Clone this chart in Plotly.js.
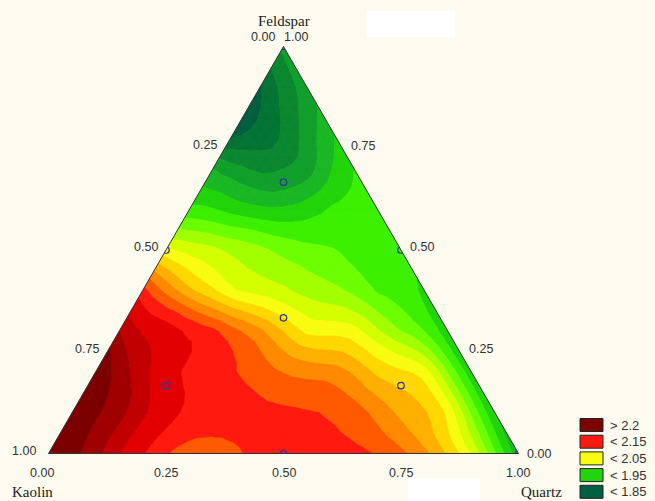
<!DOCTYPE html>
<html>
<head>
<meta charset="utf-8">
<script src="https://cdn.plot.ly/plotly-3.0.1.min.js"></script>
<style>
  html, body { margin: 0; padding: 0; background: #fdfaf0; }
  #chart { width: 655px; height: 501px; }
</style>
</head>
<body>
<div id="chart"></div>
<script>
// ---- Data -----------------------------------------------------------------
// Response surface values on a simplex lattice (step 0.1).
// rowN: Feldspar = N/10; entries run Quartz = 0 ... 1-Feldspar (Kaolin = rest).
const row0  = [2.22, 2.19, 2.152, 2.118, 2.128, 2.14, 2.14, 2.128, 2.095, 2.028, 1.915];
const row1  = [2.215, 2.19, 2.158, 2.14, 2.135, 2.131, 2.12, 2.085, 2.045, 1.93];
const row2  = [2.215, 2.175, 2.145, 2.13, 2.109, 2.10, 2.065, 2.04, 1.935];
const row3  = [2.185, 2.16, 2.135, 2.095, 2.045, 2.038, 1.99, 1.935];
const row4  = [2.138, 2.075, 2.03, 2.014, 1.997, 1.968, 1.945];
const row5  = [2.035, 2.015, 1.995, 1.975, 1.965, 1.958];
const row6  = [1.955, 1.94, 1.933, 1.952, 1.96];
const row7  = [1.91, 1.885, 1.90, 1.95];
const row8  = [1.835, 1.872, 1.925];
const row9  = [1.848, 1.90];
const row10 = [1.895];

// Contour levels and legend
const levels = [1.85, 1.87, 1.89, 1.91, 1.93, 1.95, 1.97, 1.99, 2.01, 2.03,
                2.05, 2.07, 2.09, 2.11, 2.13, 2.15, 2.17, 2.185, 2.2];
const legendLabels = ['> 2.2', '< 2.15', '< 2.05', '< 1.95', '< 1.85'];
const legendBands  = [19, 15, 10, 5, 0];

// Design points (Feldspar, Kaolin, Quartz)
const designFeldspar = [1, 0, 0, 0.5, 0.5, 0, 1/3, 2/3, 1/6, 1/6];
const designKaolin   = [0, 1, 0, 0.5, 0, 0.5, 1/3, 1/6, 2/3, 1/6];
const designQuartz   = [0, 0, 1, 0, 0.5, 0.5, 1/3, 1/6, 1/6, 2/3];

// Axis ticks and titles
const tickValues = [0, 0.25, 0.5, 0.75, 1];
const tickText   = ['0.00', '0.25', '0.50', '0.75', '1.00'];
const axisTitles = ['Feldspar', 'Kaolin', 'Quartz'];

// ---- Styles ---------------------------------------------------------------
const bandColors = [
  '#00603f', '#057434', '#0b8830', '#12a02c', '#1bb825', '#22d40a',
  '#3cf000', '#6cff00', '#a2ff00', '#d4ff00', '#f8fc10',
  '#ffd800', '#ffb000', '#ff8a00', '#ff5a00', '#ff1a10',
  '#e20000', '#c20000', '#a00000', '#7c0000'
];
const BG = '#fdfaf0';
const W = 655, H = 501;
const DOMX = [48.5 / W, 518.5 / W], DOMY = [0.09, 0.912];

// ---- Contour rendering: smooth (butterfly) refinement of the lattice, then
//      filled bands by linear interpolation inside each small triangle -------
function refine(Z, N) {
  const M = 2 * N;
  const get = (i, j) => (i >= 0 && j >= 0 && i + j <= N) ? Z[i][j] : undefined;
  const Y = [];
  for (let i = 0; i <= M; i++) Y.push(new Array(M - i + 1));
  for (let i = 0; i <= N; i++) for (let j = 0; j <= N - i; j++) Y[2 * i][2 * j] = Z[i][j];
  const dirs = [[[0, 1], [1, 0]], [[1, 0], [0, 1]], [[1, -1], [1, 0]]];
  for (let i = 0; i <= N; i++) for (let j = 0; j <= N - i; j++) {
    dirs.forEach(([d, p]) => {
      const i2 = i + d[0], j2 = j + d[1];
      const P2 = get(i2, j2);
      if (P2 === undefined) return;
      const P1 = Z[i][j];
      const q1 = get(i + p[0], j + p[1]), q2 = get(i2 - p[0], j2 - p[1]);
      const r = [get(i + p[0] - d[0], j + p[1] - d[1]), get(i + p[0] + d[0], j + p[1] + d[1]),
                 get(i2 - p[0] - d[0], j2 - p[1] - d[1]), get(i2 - p[0] + d[0], j2 - p[1] + d[1])];
      let v;
      if (q1 !== undefined && q2 !== undefined && r.every(x => x !== undefined)) {
        v = (P1 + P2) / 2 + (q1 + q2) / 8 - (r[0] + r[1] + r[2] + r[3]) / 16;
      } else if (q1 === undefined || q2 === undefined) {
        const p0 = get(i - d[0], j - d[1]), p3 = get(i2 + d[0], j2 + d[1]);
        v = (p0 !== undefined && p3 !== undefined) ? (-p0 + 9 * P1 + 9 * P2 - p3) / 16 : (P1 + P2) / 2;
      } else {
        v = 3 * (P1 + P2) / 8 + (q1 + q2) / 8;
      }
      Y[i + i2][j + j2] = v;
    });
  }
  return Y;
}
let grid = [row0, row1, row2, row3, row4, row5, row6, row7, row8, row9, row10];
let N = grid.length - 1;
for (let s = 0; s < 2; s++) { grid = refine(grid, N); N *= 2; }

function node(i, j) { return { a: i / N, c: j / N, b: (N - i - j) / N, z: grid[i][j] }; }
function lerp(P, Q, t) {
  return { a: P.a + (Q.a - P.a) * t, b: P.b + (Q.b - P.b) * t,
           c: P.c + (Q.c - P.c) * t, z: P.z + (Q.z - P.z) * t };
}
function clip(poly, lvl, above) {
  const out = [];
  for (let k = 0; k < poly.length; k++) {
    const P = poly[k], Q = poly[(k + 1) % poly.length];
    const pin = above ? P.z >= lvl : P.z <= lvl;
    const qin = above ? Q.z >= lvl : Q.z <= lvl;
    if (pin) out.push(P);
    if (pin !== qin) out.push(lerp(P, Q, (lvl - P.z) / (Q.z - P.z)));
  }
  return out;
}
const tris = [];
for (let i = 0; i < N; i++) for (let j = 0; j <= N - 1 - i; j++) {
  tris.push([node(i, j), node(i, j + 1), node(i + 1, j)]);
  if (j <= N - i - 2) tris.push([node(i, j + 1), node(i + 1, j + 1), node(i + 1, j)]);
}
const traces = [];
const nb = levels.length + 1;
for (let k = 0; k < nb; k++) {
  const lo = k === 0 ? null : levels[k - 1];
  const hi = k === nb - 1 ? null : levels[k];
  const A = [], B = [], C = [];
  tris.forEach(t => {
    let p = t;
    if (lo !== null) p = clip(p, lo, true);
    if (p.length >= 3 && hi !== null) p = clip(p, hi, false);
    if (p.length >= 3) {
      p.concat([p[0]]).forEach(v => { A.push(v.a); B.push(v.b); C.push(v.c); });
      A.push(null); B.push(null); C.push(null);
    }
  });
  if (A.length) {
    traces.push({
      type: 'scatterternary', mode: 'lines', a: A, b: B, c: C,
      fill: 'toself', fillcolor: bandColors[k],
      line: { color: bandColors[k], width: 0.8, simplify: false },
      hoverinfo: 'skip', showlegend: false
    });
  }
}
traces.push({
  type: 'scatterternary', mode: 'markers',
  a: designFeldspar, b: designKaolin, c: designQuartz,
  marker: { symbol: 'circle-open', size: 6.5, color: '#34349a', line: { width: 1.2 } },
  showlegend: false, hoverinfo: 'skip'
});

// ---- Geometry of the ternary frame (same as Plotly's fit in the domain) ----
const triW = (DOMX[1] - DOMX[0]) * W;
const triH = triW * Math.sqrt(3) / 2;
const x0 = DOMX[0] * W;
const yMid = H * (1 - (DOMY[0] + DOMY[1]) / 2);
const apex = [x0 + triW / 2, yMid - triH / 2];
const vBL = [x0, yMid + triH / 2], vBR = [x0 + triW, yMid + triH / 2];
function toPx(f, k, q) {
  return [f * apex[0] + k * vBL[0] + q * vBR[0], f * apex[1] + k * vBL[1] + q * vBR[1]];
}
const px = x => x / W, py = y => 1 - y / H;

// ---- Legend (boxed swatches), tick labels, titles -------------------------
const shapes = [
  { type: 'rect', xref: 'paper', yref: 'paper', x0: px(367), x1: px(455),
    y0: py(37), y1: py(11), fillcolor: '#ffffff', line: { width: 0 } },
  { type: 'rect', xref: 'paper', yref: 'paper', x0: px(408), x1: px(480),
    y0: 0, y1: py(478), fillcolor: '#ffffff', line: { width: 0 } }
];
const annotations = [];
legendLabels.forEach((lab, r) => {
  const cy = 425 + r * 16.7;
  shapes.push({ type: 'rect', xref: 'paper', yref: 'paper',
    x0: px(580), x1: px(603), y0: py(cy + 6.5), y1: py(cy - 6.5),
    fillcolor: bandColors[legendBands[r]], line: { color: '#222', width: 1 } });
  annotations.push({ xref: 'paper', yref: 'paper', x: px(608), y: py(cy),
    xanchor: 'left', yanchor: 'middle', showarrow: false, text: lab,
    font: { family: 'Liberation Sans, Arial, sans-serif', size: 13, color: '#333' } });
});

const tickFont = { family: 'Liberation Sans, Arial, sans-serif', size: 12.5, color: '#333' };
function tickAnn(pt, off, text) {
  annotations.push({ xref: 'paper', yref: 'paper', x: px(pt[0] + off[0]), y: py(pt[1] + off[1]),
    xanchor: 'center', yanchor: 'middle', showarrow: false, text: text, font: tickFont });
}
tickValues.forEach((v, n) => {
  // Kaolin scale on the left edge
  tickAnn(toPx(1 - v, v, 0), v === 0 ? [-21, -9.5] : v === 1 ? [-25, -3] : [-20, -3], tickText[n]);
  // Quartz scale on the bottom edge
  tickAnn(toPx(0, 1 - v, v), v === 0 ? [-7, 19] : v === 1 ? [-1, 19] : [0, 19], tickText[n]);
  // Feldspar scale on the right edge
  tickAnn(toPx(v, 0, 1 - v), v === 1 ? [12, -9.5] : v === 0 ? [20, 0] : [21, -2.5], tickText[n]);
});

const titleFont = { family: 'Liberation Serif, Times New Roman, serif', size: 15, color: '#222' };
const titlePos = [[284, 21], [32, 492], [541, 492]];
axisTitles.forEach((t, k) => {
  annotations.push({ xref: 'paper', yref: 'paper', x: px(titlePos[k][0]), y: py(titlePos[k][1]),
    xanchor: 'center', yanchor: 'middle', showarrow: false, text: t, font: titleFont });
});

function axis() {
  return {
    title: { text: '' }, showticklabels: false, ticks: '',
    showgrid: false, showline: true, linecolor: '#333', linewidth: 1
  };
}
const layout = {
  width: W, height: H,
  margin: { l: 0, r: 0, t: 0, b: 0 },
  paper_bgcolor: BG, plot_bgcolor: BG,
  showlegend: false,
  ternary: {
    sum: 1,
    domain: { x: DOMX, y: DOMY },
    bgcolor: 'rgba(0,0,0,0)',
    aaxis: axis(), baxis: axis(), caxis: axis()
  },
  shapes: shapes,
  annotations: annotations
};
Plotly.newPlot('chart', traces, layout, { staticPlot: true, displayModeBar: false });
</script>
</body>
</html>
